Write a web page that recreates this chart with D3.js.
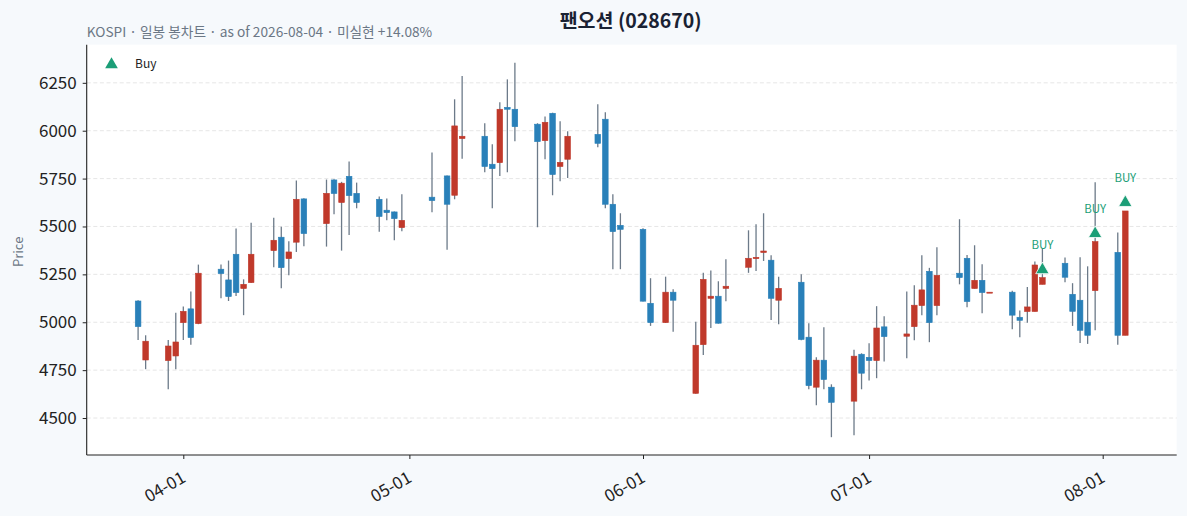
<!DOCTYPE html>
<html><head><meta charset="utf-8">
<script src="https://cdn.jsdelivr.net/npm/d3@7/dist/d3.min.js"></script>
<style>
html,body{margin:0;padding:0;background:#f6f9fc;}
svg{display:block;}
</style></head>
<body>
<svg id="chart" width="1187" height="516"></svg>
<script>
// ---- data ----
const dates = ["2026-03-26","2026-03-27","2026-03-30","2026-03-31","2026-04-01","2026-04-02","2026-04-03",
"2026-04-06","2026-04-07","2026-04-08","2026-04-09","2026-04-10","2026-04-13","2026-04-14","2026-04-15","2026-04-16","2026-04-17",
"2026-04-20","2026-04-21","2026-04-22","2026-04-23","2026-04-24","2026-04-27","2026-04-28","2026-04-29","2026-04-30",
"2026-05-04","2026-05-06","2026-05-07","2026-05-08","2026-05-11","2026-05-12","2026-05-13","2026-05-14","2026-05-15",
"2026-05-18","2026-05-19","2026-05-20","2026-05-21","2026-05-22","2026-05-26","2026-05-27","2026-05-28","2026-05-29",
"2026-06-01","2026-06-02","2026-06-04","2026-06-05","2026-06-08","2026-06-09","2026-06-10","2026-06-11","2026-06-12",
"2026-06-15","2026-06-16","2026-06-17","2026-06-18","2026-06-19","2026-06-22","2026-06-23","2026-06-24","2026-06-25","2026-06-26",
"2026-06-29","2026-06-30","2026-07-01","2026-07-02","2026-07-03","2026-07-06","2026-07-07","2026-07-08","2026-07-09","2026-07-10",
"2026-07-13","2026-07-14","2026-07-15","2026-07-16","2026-07-17","2026-07-20","2026-07-21","2026-07-22","2026-07-23","2026-07-24",
"2026-07-27","2026-07-28","2026-07-29","2026-07-30","2026-07-31","2026-08-03","2026-08-04"];
const opens  = [5111,4803,4800,4824,4998,5070,4993, 5277,5221,5355,5176,5207, 5374,5444,5332,5418,5644, 5515,5743,5625,5762,5673, 5642,5585,5576,5494,
 5653,5764,5663,5959, 5971,5825,5833,6122,6112, 6034,5948,6091,5813,5851, 5981,6060,5616,5506,
 5485,5099,4998,5157, 4629,4883,5125,5136,5177, 5287,5332,5364,5324,5115, 5209,4922,4661,4802,4661,
 4588,4833,4817,4800,4976, 4927,4977,5087,5266,5087, 5256,5334,5176,5219,5155, 5157,5026,5056,5056,5198,
 5308,5146,5115,5000,5165, 5365,4932];
const highs  = [5115,4932,4908,5050,5082,5160,5301, 5301,5322,5489,5224,5520, 5546,5499,5423,5740,5648, 5745,5746,5733,5839,5729, 5656,5646,5578,5668,
 5886,5766,6164,6286, 6039,5929,6148,6268,6355, 6039,6074,6094,6049,5997, 6138,6096,5668,5569,
 5491,5230,5238,5172, 5003,5259,5270,5214,5329, 5480,5512,5569,5350,5238, 5251,4995,4817,4974,4676,
 4857,4838,4890,5084,5031, 5160,5193,5350,5284,5392, 5538,5351,5402,5303,5158, 5164,5061,5184,5317,5386,
 5338,5204,5339,5292,5731, 5468,5581];
const lows   = [4908,4755,4650,4755,4908,4882,4990, 5125,5111,5137,5037,5205, 5287,5177,5245,5367,5397, 5395,5564,5374,5456,5595, 5473,5532,5428,5475,
 5574,5378,5642,5853, 5783,5595,5764,5783,5945, 5496,5851,5663,5736,5753, 5914,5595,5277,5277,
 5108,4981,4996,4950, 4627,4829,4970,4993,5110, 5258,5268,5320,5012,4990, 4906,4650,4567,4650,4400,
 4410,4650,4696,4708,4795, 4812,4906,5037,4896,5037, 5198,5078,5176,5047,5155, 4963,4922,4998,5056,5198,
 5209,4981,4892,4887,4958, 4882,4932];
const closes = [4977,4901,4876,4897,5057,4920,5256, 5254,5134,5155,5198,5355, 5428,5285,5367,5642,5463, 5673,5672,5726,5661,5625, 5552,5572,5541,5532,
 5635,5616,6025,5971, 5813,5802,6112,6112,6021, 5943,6044,5771,5835,5971, 5934,5616,5473,5485,
 5110,4998,5157,5115, 4880,5224,5136,4995,5188, 5334,5339,5372,5125,5177, 4910,4669,4802,4701,4582,
 4823,4734,4800,4970,4925, 4939,5089,5169,4998,5245, 5233,5108,5219,5155,5157, 5037,5010,5080,5299,5233,
 5235,5057,4958,4932,5421, 4932,5581];
const buyDates  = ["2026-07-24","2026-07-31","2026-08-04"];
const buyPrices = [5279,5468,5630];
const yTicks = [4500,4750,5000,5250,5500,5750,6000,6250];
const xTicks = ["2026-04-01","2026-05-01","2026-06-01","2026-07-01","2026-08-01"];

// ---- layout ----
const svg = d3.select("#chart");
const L = 86.7, R = 1176.7, T = 44.7, B = 455;
const parse = d3.utcParse("%Y-%m-%d");
const x = d3.scaleUtc()
  .domain([new Date(Date.UTC(2026,2,19,4,19)), new Date(Date.UTC(2026,7,10,19,41))])
  .range([L, R]);
const y = d3.scaleLinear().domain([4307, 6449]).range([B, T]);
const dayPx = x(parse("2026-04-02")) - x(parse("2026-04-01"));
const bw = dayPx * 0.75;

const FONT = "'Noto Sans CJK KR','Noto Sans',sans-serif";
const UP = "#c0392b", DOWN = "#2980b9", WICK = "#6c7a89", GREEN = "#1b9e77";

// plot background
svg.append("rect").attr("x", L).attr("y", T).attr("width", R - L).attr("height", B - T).attr("fill", "#ffffff");

// grid
svg.append("g").selectAll("line").data(yTicks).join("line")
  .attr("x1", L).attr("x2", R).attr("y1", d => y(d)).attr("y2", d => y(d))
  .attr("stroke", "#e3e3e3").attr("stroke-width", 0.9).attr("stroke-dasharray", "4,2.6");

// candles
const data = dates.map((d, i) => ({d: parse(d), o: opens[i], h: highs[i], l: lows[i], c: closes[i]}));
const cg = svg.append("g");
cg.selectAll("line.wick").data(data).join("line").attr("class", "wick")
  .attr("x1", d => x(d.d)).attr("x2", d => x(d.d))
  .attr("y1", d => y(d.h)).attr("y2", d => y(d.l))
  .attr("stroke", WICK).attr("stroke-width", 1.3);
cg.selectAll("rect.body").data(data).join("rect").attr("class", "body")
  .attr("x", d => x(d.d) - bw / 2).attr("width", bw)
  .attr("y", d => y(Math.max(d.o, d.c)))
  .attr("height", d => Math.max(1, Math.abs(y(d.o) - y(d.c))))
  .attr("fill", d => d.c >= d.o ? UP : DOWN)
  .attr("stroke", d => d.c >= d.o ? UP : DOWN).attr("stroke-width", 0.6);

// buy markers
const tri = d3.symbol().type(d3.symbolTriangle).size(78);
const buys = buyDates.map((d, i) => ({d: parse(d), p: buyPrices[i]}));
const bg = svg.append("g");
bg.selectAll("path").data(buys).join("path")
  .attr("d", tri).attr("transform", d => `translate(${x(d.d)},${y(d.p) + 1})`)
  .attr("fill", GREEN).attr("stroke", "#ffffff").attr("stroke-width", 0.8);
bg.selectAll("text").data(buys).join("text")
  .attr("x", d => x(d.d)).attr("y", d => y(d.p) - 20)
  .attr("text-anchor", "middle").attr("font-family", FONT).attr("font-size", 11.5)
  .attr("fill", GREEN).text("BUY");

// axes
const ya = svg.append("g").attr("transform", `translate(${L},0)`)
  .call(d3.axisLeft(y).tickValues(yTicks).tickSize(4).tickPadding(6).tickFormat(d3.format("d")));
const xa = svg.append("g").attr("transform", `translate(0,${B})`)
  .call(d3.axisBottom(x).tickValues(xTicks.map(parse)).tickSize(4).tickFormat(d3.utcFormat("%m-%d")));
[ya, xa].forEach(g => {
  g.select(".domain").remove();
  g.selectAll(".tick line").attr("stroke", "#222").attr("stroke-width", 1);
  g.selectAll(".tick text").attr("fill", "#222").attr("font-family", FONT).attr("font-size", 17);
});
xa.selectAll(".tick text")
  .attr("text-anchor", "end").attr("dy", null).attr("y", 0)
  .attr("transform", "translate(3,26) rotate(-30)");
// spines
svg.append("line").attr("x1", L).attr("x2", L).attr("y1", T).attr("y2", B).attr("stroke", "#222").attr("stroke-width", 1.1);
svg.append("line").attr("x1", L).attr("x2", R).attr("y1", B).attr("y2", B).attr("stroke", "#222").attr("stroke-width", 1.1);

// y label
svg.append("text").attr("transform", `translate(23,${(T + B) / 2 + 2}) rotate(-90)`)
  .attr("text-anchor", "middle").attr("font-family", FONT).attr("font-size", 13)
  .attr("fill", "#6b7785").text("Price");

// title & subtitle
svg.append("text").attr("x", (L + R) / 2 - 1).attr("y", 28).attr("text-anchor", "middle")
  .attr("font-family", FONT).attr("font-weight", "bold").attr("font-size", 19.5)
  .attr("fill", "#1a2233").text("팬오션 (028670)");
svg.append("text").attr("x", L).attr("y", 37).attr("font-family", FONT).attr("font-size", 13.7)
  .attr("fill", "#6b7785").text("KOSPI · 일봉 봉차트 · as of 2026-08-04 · 미실현 +14.08%");

// legend
svg.append("path").attr("d", d3.symbol().type(d3.symbolTriangle).size(70))
  .attr("transform", "translate(111.5,64.5)").attr("fill", GREEN);
svg.append("text").attr("x", 135).attr("y", 68).attr("font-family", FONT).attr("font-size", 12)
  .attr("fill", "#222").text("Buy");
</script>
</body></html>
